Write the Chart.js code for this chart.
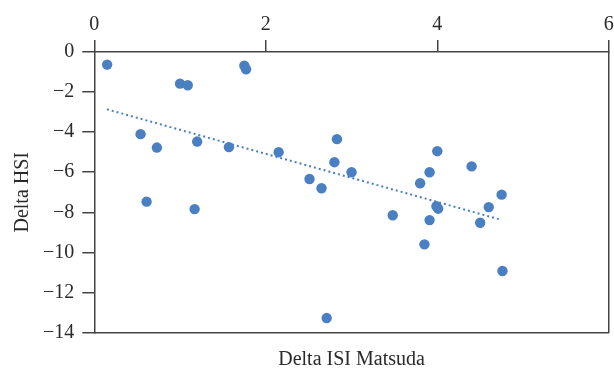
<!DOCTYPE html>
<html>
<head>
<meta charset="utf-8">
<script src="https://cdn.jsdelivr.net/npm/chart.js@4"></script>
<style>
html,body{margin:0;padding:0;background:#fff;}
#wrap{width:614px;height:370px;}
</style>
</head>
<body>
<div id="wrap"><canvas id="c" width="614" height="370"></canvas></div>
<script>
const deltaISI = [0.15, 1.00, 1.09, 1.75, 1.77, 0.54, 0.73, 1.20, 1.57, 2.15, 2.51, 0.61, 1.17, 2.83, 2.80, 3.00, 2.65, 4.00, 4.40, 3.91, 3.80, 2.71, 3.48, 3.99, 4.01, 3.91, 3.85, 4.50, 4.60, 4.75, 4.76];
const deltaHSI = [-0.63, -1.58, -1.66, -0.68, -0.86, -4.10, -4.77, -4.47, -4.75, -5.00, -6.34, -7.47, -7.84, -4.35, -5.50, -6.00, -6.80, -4.95, -5.71, -6.00, -6.55, -13.28, -8.15, -7.70, -7.82, -8.39, -9.60, -8.52, -7.74, -7.12, -10.93];
const trendX = [0.147, 4.74];
const trendY = [-2.86, -8.37];
const xTicks = [0, 2, 4, 6];
const yTicks = [0, -2, -4, -6, -8, -10, -12, -14];

const FONT = "'Liberation Serif', 'DejaVu Serif', serif";
const AX = '#444';
const TXT = '#2a2a2a';
const BLUE = '#4a7fc1';

const pts = deltaISI.map((x, i) => ({x, y: deltaHSI[i]}));
const trend = trendX.map((x, i) => ({x, y: trendY[i]}));
const fmt = v => String(v).replace('-', '\u2212');

new Chart(document.getElementById('c'), {
  type: 'scatter',
  data: {
    datasets: [
      {data: pts, backgroundColor: BLUE, borderColor: BLUE, pointRadius: 5.2, pointHoverRadius: 5.2, borderWidth: 0, xAxisID: 'x', yAxisID: 'y'},
      {type: 'line', data: trend, borderColor: BLUE, borderWidth: 2, borderDash: [2, 3], pointRadius: 0, fill: false, xAxisID: 'x', yAxisID: 'y'}
    ]
  },
  options: {
    responsive: false,
    animation: false,
    events: [],
    layout: {padding: {top: 10, right: 4, bottom: 0, left: 1}},
    plugins: {legend: {display: false}, tooltip: {enabled: false}},
    scales: {
      x: {
        type: 'linear', position: 'top', min: 0, max: 6,
        afterBuildTicks: s => { s.ticks = xTicks.map(v => ({value: v})); },
        afterFit: s => { s.paddingRight = 0; s.paddingLeft = 0; },
        ticks: {font: {family: FONT, size: 20}, color: TXT, padding: 3, maxRotation: 0, callback: fmt},
        grid: {drawOnChartArea: false, tickLength: 12, color: AX, lineWidth: 1.5},
        border: {color: AX, width: 1.5}
      },
      x2: {
        type: 'linear', position: 'bottom', min: 0, max: 6,
        ticks: {display: false},
        grid: {display: false, drawOnChartArea: false, drawTicks: false},
        border: {display: true, color: AX, width: 1.5},
        title: {display: true, text: 'Delta ISI Matsuda', font: {family: FONT, size: 20, lineHeight: 1}, color: TXT, padding: {top: 17.5, bottom: 0}}
      },
      y: {
        type: 'linear', position: 'left', min: -14, max: 0,
        afterBuildTicks: s => { s.ticks = yTicks.map(v => ({value: v})); },
        ticks: {font: {family: FONT, size: 20}, color: TXT, padding: 8, callback: fmt},
        grid: {drawOnChartArea: false, tickLength: 12, color: AX, lineWidth: 1.5},
        border: {color: AX, width: 1.5},
        title: {display: true, text: 'Delta HSI', font: {family: FONT, size: 20}, color: TXT, padding: {top: 10, bottom: 0}}
      },
      y2: {
        type: 'linear', position: 'right', min: -14, max: 0,
        ticks: {display: false},
        grid: {display: false, drawOnChartArea: false, drawTicks: false},
        border: {display: true, color: AX, width: 1.5}
      }
    }
  }
});
</script>
</body>
</html>
